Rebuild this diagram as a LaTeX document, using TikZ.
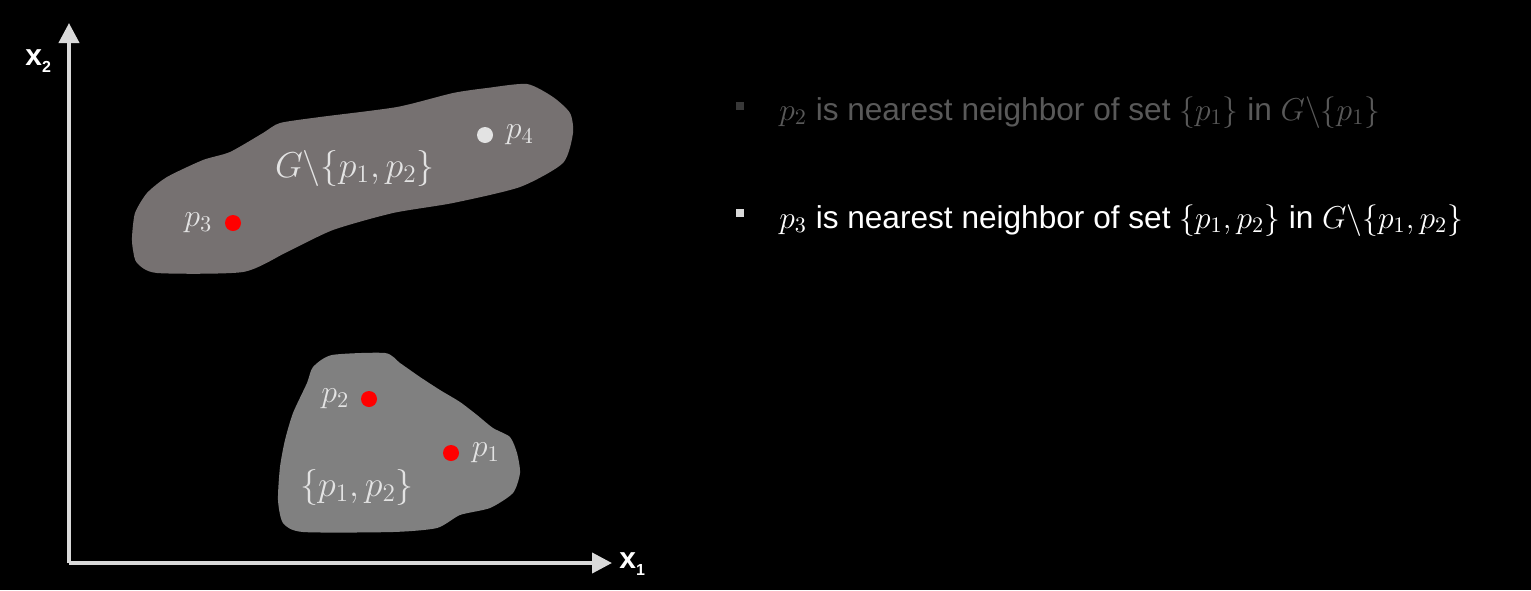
\RequirePackage{fix-cm}
\documentclass[tikz,border=0pt]{standalone}
\usepackage{fontspec}
\setmainfont{Liberation Sans}
\usetikzlibrary{positioning,arrows.meta}

\definecolor{upblob}{HTML}{767171}
\definecolor{lowblob}{HTML}{808080}
\definecolor{labgray}{HTML}{E3E3E3}
\definecolor{axisgray}{HTML}{D9D9D9}
\definecolor{dimtext}{HTML}{595959}

\begin{document}
\begin{tikzpicture}[x=0.5pt,y=-0.5pt,
    dot/.style={circle,fill=red,minimum size=8pt,inner sep=0pt},
    plab/.style={inner sep=0pt,text=labgray,font=\fontsize{16}{18}\selectfont},
    setlab/.style={inner sep=0pt,text=labgray,font=\fontsize{18}{21}\selectfont},
    axlab/.style={inner sep=0pt,anchor=base west,text=white,font=\bfseries\fontsize{15}{18}\selectfont},
    bullet/.style={rectangle,minimum size=3.8pt,inner sep=0pt},
    line/.style={inner sep=0pt,anchor=base west,font=\fontsize{15.8}{19}\selectfont}]
        \fill[black] (0,0) rectangle (1531,590);
        \useasboundingbox (0,0) rectangle (1531,590);

        \fill[upblob] plot[smooth cycle,tension=0.4] coordinates {(133,250) (137,263) (157,273) (243,272) (287,252) (333,230) (393,213) (453,203) (520,187) (563,163) (573,133) (570,113) (553,97) (527,84) (487,88) (453,93) (397,107) (320,117) (280,123) (263,133) (230,152) (203,160) (167,177) (147,193) (135,213) (132,237)};
        \fill[lowblob] plot[smooth cycle,tension=0.4] coordinates {(332,355) (385,353) (400,363) (420,377) (440,390) (460,402) (477,415) (493,428) (510,437) (517,453) (520,473) (513,493) (490,508) (460,515) (437,528) (393,532) (303,532) (283,523) (278,500) (280,467) (285,440) (293,413) (307,383) (313,367)};

        \coordinate (O) at (69,563);
        \coordinate (Xend) at (612,563);
        \coordinate (Yend) at (69,23);
        \draw[axisgray,line width=2pt,-{Triangle[width=10pt,length=10pt]}] (O) -- (Xend);
        \draw[axisgray,line width=2pt,-{Triangle[width=10pt,length=10pt]}] (O) -- (Yend);
        \node[axlab] (X1) at (619,568) {x{\fontsize{8}{9}\selectfont\raisebox{-3.5pt}{1}}};
        \node[axlab] (X2) at (25,65) {x{\fontsize{8}{9}\selectfont\raisebox{-3.5pt}{2}}};

        \node[dot] at (451,453) (P1){};
        \node[dot] at (369,399) (P2){};
        \node[dot] at (233,223) (P3){};
        \node[dot,fill=labgray] at (485,135) (P4){};
        \node[plab,right = 6pt of P1]{$p_1$};
        \node[plab,left = 5.5pt of P2]{$p_2$};
        \node[plab,left = 6pt of P3]{$p_3$};
        \node[plab,right = 6pt of P4]{$p_4$};
        \node[setlab] (S) at (357,487) {$\{p_1,p_2\}$};
        \node[setlab] (G) at (355,168) {$G\backslash\{p_1,p_2\}$};

        \node[bullet,fill=dimtext!120] (B1) at (740,106) {};
        \node[bullet,fill=axisgray] (B2) at (740,213) {};
        \node[line,text=dimtext] (L1) at (779,120) {$p_2$ is nearest neighbor of set $\{p_1\}$ in $G\backslash\{p_1\}$};
        \node[line,text=white] (L2) at (779,228) {$p_3$ is nearest neighbor of set $\{p_1,p_2\}$ in $G\backslash\{p_1,p_2\}$};
      \end{tikzpicture}
\end{document}
